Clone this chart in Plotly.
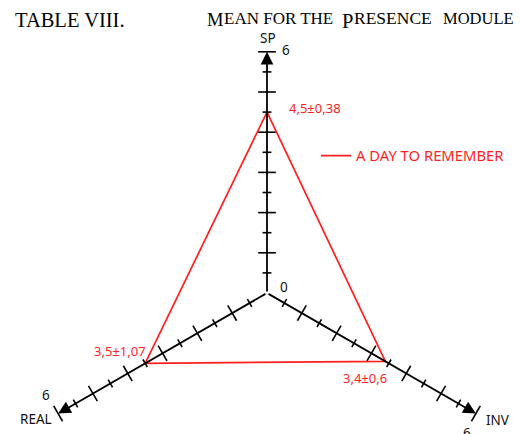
import numpy as np
import plotly.graph_objects as go

# presence module means, one value per axis
axis_names = ["SP", "INV", "REAL"]
axis_angles = [90, -30, 210]          # degrees, direction of each axis
means = [4.5, 3.4, 3.5]
mean_labels = ["4,5±0,38", "3,4±0,6", "3,5±1,07"]
series_name = "A DAY TO REMEMBER"
axis_max = 6
tick_step = 0.5

RED = "#ff1f1f"
SANS = "Noto Sans"
ang = np.radians(axis_angles)
W, H = 521, 434

fig = go.Figure()

# axis tick marks, perpendicular to each axis
tx, ty = [], []
for a in ang:
    for t in np.arange(tick_step, axis_max + 0.01, tick_step):
        half = 0.22 if t % 1 == 0 else 0.11
        cx, cy = t * np.cos(a), t * np.sin(a)
        px, py = -np.sin(a) * half, np.cos(a) * half
        tx += [cx - px, cx + px, None]
        ty += [cy - py, cy + py, None]
fig.add_trace(go.Scatter(x=tx, y=ty, mode="lines", line=dict(color="black", width=1.6),
                         hoverinfo="skip", showlegend=False))

# red triangle
vx = [m * np.cos(a) for m, a in zip(means, ang)]
vy = [m * np.sin(a) for m, a in zip(means, ang)]
fig.add_trace(go.Scatter(x=vx + vx[:1], y=vy + vy[:1], mode="lines", name=series_name,
                         line=dict(color=RED, width=1.7)))

# axis lines with arrows
for a in ang:
    fig.add_annotation(x=axis_max * np.cos(a), y=axis_max * np.sin(a), ax=0, ay=0,
                       xref="x", yref="y", axref="x", ayref="y", text="", showarrow=True,
                       arrowhead=2, arrowsize=1.4, arrowwidth=1.8, arrowcolor="black", standoff=0)

txt = dict(family=SANS, size=13.5, color="#111111")
def label(px, py, s, font=txt, xanchor="center"):
    # px, py in page pixels from the top-left corner
    fig.add_annotation(x=px / W, y=1 - py / H, xref="paper", yref="paper", text=s,
                       showarrow=False, font=font, xanchor=xanchor, yanchor="middle",
                       borderpad=0)

label(268, 38, axis_names[0])
label(286, 50, "6")
label(284, 287, "0")
label(46, 395, "6")
label(36, 419, axis_names[2])
label(498, 420, axis_names[1])
label(467, 433, "6")

# value labels next to each vertex
offsets = [("left", 20, 4), ("center", -20, -17), ("right", 3, 12)]
for x, y, lab, (anc, dx, dy) in zip(vx, vy, mean_labels, offsets):
    fig.add_annotation(x=x, y=y, text=lab, showarrow=False, xanchor=anc, xshift=dx, yshift=dy,
                       font=dict(family=SANS, size=13, color=RED))

# table caption, small caps pieces
serif = "Liberation Serif"
big = dict(family=serif, size=20.5, color="black")
small = dict(family=serif, size=17, color="black")
label(14, 20, "TABLE VIII.", big, "left")
label(206, 20, "M", dict(big, size=18.5), "left")
label(223, 18, "EAN FOR THE", small, "left")
label(341, 21, "P", big, "left")
label(353, 18, "RESENCE", dict(small, size=17.5), "left")
label(442, 18, "MODULE", dict(small, size=16.5), "left")

px_per_unit = 40.2
cx0, cy0 = 267, 293
fig.update_layout(
    width=W, height=H, margin=dict(l=0, r=0, t=0, b=0),
    plot_bgcolor="white", paper_bgcolor="white",
    xaxis=dict(range=[-cx0 / px_per_unit, (W - cx0) / px_per_unit], visible=False),
    yaxis=dict(range=[-(H - cy0) / px_per_unit, cy0 / px_per_unit], visible=False),
    legend=dict(x=316 / W, y=1 - 156 / H, xanchor="left", yanchor="middle",
                font=dict(family=SANS, size=14.8, color=RED), bgcolor="rgba(0,0,0,0)",
                itemwidth=30),
)

fig.write_html("out.html", config={"displayModeBar": False},
               post_script="document.body.style.margin='0';")
